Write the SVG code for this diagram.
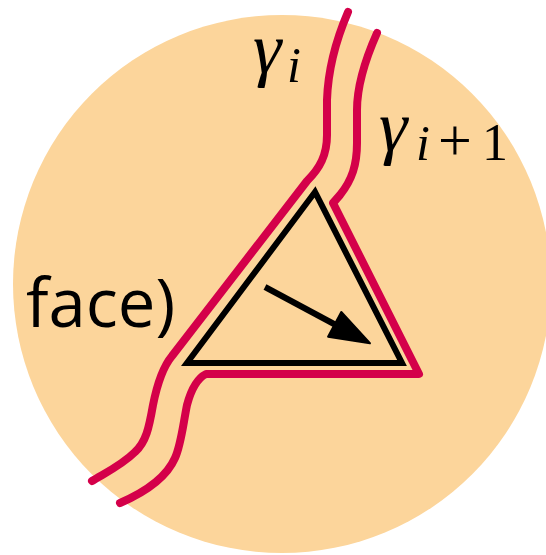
<svg xmlns="http://www.w3.org/2000/svg" width="546" height="555" viewBox="0 0 546 555">
  <style>
    .curve { fill: none; stroke: #D4004A; stroke-width: 8; stroke-linecap: round; stroke-linejoin: round; }
    .tri { fill: none; stroke: #000; stroke-width: 6; stroke-linejoin: miter; }
    .shaft { fill: none; stroke: #000; stroke-width: 6; }
    .math { font-family: "Liberation Serif", "DejaVu Serif", serif; font-style: italic; fill: #000; }
    .up { font-style: normal; }
    .label { font-family: "Open Sans", "Liberation Sans", sans-serif; fill: #000; }
  </style>
  <defs>
    <marker id="head" markerUnits="userSpaceOnUse" orient="auto" refX="0" refY="0" markerWidth="60" markerHeight="40" overflow="visible">
      <path d="M9,0 L-31,-14 L-31,14 Z" fill="#000" stroke="#000" stroke-width="2" stroke-linejoin="round"/>
    </marker>
  </defs>

  <g id="disk">
    <circle cx="282" cy="284" r="269" fill="#FCD59B"/>
  </g>

  <g id="label-face">
    <text class="label" x="26" y="327" font-size="67">face)</text>
  </g>

  <g id="gamma-i">
    <path class="curve" d="M348,12 C336,40 328,70 327,100 L327,135 C327,155 320,168 307,181 L172,356 C162,368 157,385 153,405 C149,428 146,442 135,452 C122,465 105,473 92,481"/>
    <text class="math" x="253" y="73" font-size="72">γ</text>
    <text class="math" x="287" y="82" font-size="50">i</text>
  </g>

  <g id="gamma-i1">
    <path class="curve" d="M377,33 C365,60 357,85 357,110 L357,143 C357,165 352,180 340,195 L333,203 L419,374 L206,374 C198,378 191,390 187,405 C183,425 181,445 175,458 C168,474 150,490 120,503"/>
    <text class="math" x="379" y="151" font-size="72">γ</text>
    <text class="math" font-size="50" y="160"><tspan x="416">i</tspan><tspan class="up" x="438" font-size="60">+</tspan><tspan class="up" x="482" font-size="52">1</tspan></text>
  </g>

  <g id="face-triangle">
    <polygon class="tri" points="315,192 187,363 402,363"/>
  </g>

  <g id="connectors">
    <path class="shaft" d="M265,287 L362,339" marker-end="url(#head)"/>
  </g>
</svg>
